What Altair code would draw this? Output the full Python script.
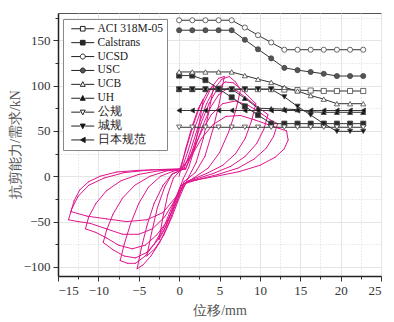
import altair as alt
import pandas as pd

# ---------------- data ----------------
series_names = ["ACI 318M-05", "Calstrans", "UCSD", "USC", "UCB", "UH", "公规", "城规", "日本规范"]
x_mm = [0, 1.63, 3.26, 4.89, 6.51, 8.14, 9.77, 11.4, 13.03, 14.66, 16.29, 17.91, 19.54, 21.17, 22.8]
aci = [96, 96, 96, 96, 96, 96, 96, 96, 95.5, 95, 94.5, 94, 94, 94, 94]
calstrans = [111, 111, 106, 96.5, 87, 77, 67.5, 58, 58, 58, 58, 58, 58, 58, 58]
ucsd = [172, 172, 172, 172, 172, 164, 155.5, 147.5, 139.5, 139.5, 139.5, 139.5, 139.5, 139.5, 139.5]
usc = [161, 161, 161, 161, 161, 150.5, 140, 130, 119.5, 117, 115, 113, 110.5, 110.5, 110.5]
ucb = [115, 115, 115, 115, 115, 111, 107, 103.5, 98, 94, 89, 85, 80, 80, 80]
uh = [96, 96, 96, 96, 96, 86, 75, 74.5, 74, 73.5, 71, 70.5, 70.5, 70.5, 70.5]
gonggui = [54, 54, 54, 54, 54, 54, 54, 54, 54, 54, 54, 54, 54, 54, 54]
chenggui = [96, 96, 96, 96, 96, 96, 96, 96, 87.5, 77, 67.5, 58, 49.5, 49.5, 49.5]
riben = [72.5, 72.5, 72.5, 72.5, 72.5, 72.5, 72.5, 72.5, 72.5, 72.5, 72.5, 72.5, 72.5, 72.5, 72.5]
series_vals = [aci, calstrans, ucsd, usc, ucb, uh, gonggui, chenggui, riben]

# hysteresis path (displacement mm, force kN)
hyst_x = [0,
          0.8, 1.6, 2.4, 3.0, 2.5, 1.9, 1.2, 0.5,
          -0.4, -1.2, -1.9, -2.5, -2.0, -1.4, -0.7, 0,
          0.8, 1.7, 2.6, 3.5, 4.3, 3.7, 3.0, 2.1, 1.0,
          0.1, -0.9, -1.9, -3.0, -4.0, -3.4, -2.7, -1.8, -0.9, 0.3,
          1.1, 2.0, 3.0, 4.0, 4.9, 5.6, 5.0, 4.2, 3.2, 2.0, 0.6,
          -0.3, -1.3, -2.4, -3.5, -4.5, -5.2, -4.7, -4.0, -3.1, -2.0, -0.8, 0.6,
          1.4, 2.4, 3.4, 4.4, 5.3, 6.2, 7.0, 7.6, 7.0, 6.1, 5.0, 3.6, 1.8, 0.2,
          -0.8, -1.9, -3.1, -4.2, -5.4, -6.4, -7.3, -6.8, -6.0, -5.0, -3.8, -2.3, -0.6, 0.8,
          1.7, 2.7, 3.7, 4.7, 5.7, 6.7, 7.7, 8.6, 9.5, 9.0, 8.2, 7.0, 5.4, 3.4, 1.2, 0.3,
          -0.6, -1.6, -2.8, -4.0, -5.4, -6.8, -8.2, -9.4, -9.0, -8.2, -7.0, -5.5, -3.6, -1.5, 0.8,
          1.9, 2.9, 3.9, 4.9, 6.0, 7.2, 8.5, 9.8, 11.0, 10.5, 9.6, 8.2, 6.4, 4.2, 1.8, 0.6,
          -0.3, -1.5, -2.8, -4.2, -5.8, -7.5, -9.0, -10.3, -11.6, -11.2, -10.3, -9.0, -7.2, -5.0, -2.5, 0.4,
          1.6, 2.8, 4.0, 5.4, 7.0, 8.6, 10.2, 11.3, 12.2, 11.7, 10.8, 9.3, 7.3, 4.8, 2.2, 0.8,
          -0.5, -1.8, -3.3, -5.0, -7.0, -9.0, -11.0, -12.5, -13.7, -13.3, -12.5, -11.2, -9.3, -6.8, -3.5, 0.2,
          1.5, 2.8, 4.2, 5.8, 7.6, 9.4, 11.0, 12.3, 13.3, 13.5, 13.0, 11.9, 10.0, 7.4, 4.6, 2.2, 1.0,
          -0.5, -2.0, -4.0, -6.5, -9.0, -11.4, -13.4, -13.0, -12.3, -11.2, -9.8, -7.7, -5.0, -2.0, 0.5]
hyst_y = [0,
          30, 55, 75, 85, 58, 30, 10, -3,
          -25, -45, -60, -70, -45, -20, -2, 5,
          28, 55, 78, 93, 100, 72, 42, 15, -4,
          -22, -45, -65, -80, -88, -62, -35, -12, 2, 7,
          28, 55, 80, 98, 108, 110, 82, 52, 22, 4, -6,
          -28, -52, -73, -88, -98, -102, -80, -55, -30, -10, 3, 8,
          28, 56, 80, 97, 107, 110, 104, 95, 72, 48, 26, 9, -2, -10,
          -32, -56, -75, -88, -96, -96, -93, -75, -52, -30, -12, 0, 6, 8,
          30, 58, 80, 96, 104, 103, 96, 88, 80, 62, 42, 25, 12, 3, -5, -10,
          -32, -55, -72, -84, -90, -88, -81, -73, -60, -42, -24, -10, 0, 6, 8,
          30, 55, 76, 90, 97, 94, 85, 76, 68, 52, 36, 22, 11, 3, -4, -8,
          -28, -50, -65, -76, -80, -76, -68, -62, -58, -45, -30, -16, -5, 2, 6, 8,
          26, 50, 68, 80, 83, 78, 69, 62, 58, 44, 31, 19, 9, 2, -4, -8,
          -26, -45, -58, -64, -64, -58, -52, -50, -48, -36, -22, -10, -2, 4, 7, 8,
          22, 42, 57, 66, 67, 62, 57, 53, 50, 40, 30, 21, 12, 5, 0, -4, -6,
          -24, -40, -48, -50, -47, -44, -39, -27, -15, -6, 0, 4.7, 6.5, 7.5, 8]
assert len(hyst_x) == len(hyst_y)

x_major = [-15, -10, -5, 0, 5, 10, 15, 20, 25]
x_minor = [-12.5, -7.5, -2.5, 2.5, 7.5, 12.5, 17.5, 22.5]
y_major = [-100, -50, 0, 50, 100, 150]
y_minor = [-75, -25, 25, 75, 125, 175]

# ---------------- tables ----------------
rows = []
for name, vals in zip(series_names, series_vals):
    for xv, yv in zip(x_mm, vals):
        rows.append({"series": name, "x": xv, "y": yv})
series_df = pd.DataFrame(rows)
seg_df = pd.DataFrame({"x": hyst_x[:-1], "y": hyst_y[:-1], "x2": hyst_x[1:], "y2": hyst_y[1:]})

# ---------------- styles ----------------
plot_shapes = ["square", "square", "circle", "circle", "triangle-up", "triangle-up",
               "triangle-down", "triangle-down", "triangle-left"]
fills = ["white", "#2a2a2a", "white", "#555555", "white", "#111111", "white", "#111111", "#111111"]
# legend glyphs: a short line with the marker in its middle (unit = 4 px)
ln = "M-0.375,0H1.9M3.1,0H5.375"
sq = "M1.92,-0.58H3.08V0.58H1.92Z"
ci = "M1.88,0A0.62,0.62 0 1,0 3.12,0A0.62,0.62 0 1,0 1.88,0Z"
tu = "M2.5,-0.68L3.12,0.5L1.88,0.5Z"
td = "M2.5,0.68L3.12,-0.5L1.88,-0.5Z"
tl = "M1.9,0L3.1,-0.65L3.1,0.65Z"
leg_shapes = [ln + sq, ln + sq, ln + ci, ln + ci, ln + tu, ln + tu, ln + td, ln + td, ln + tl]

FONT = "Liberation Serif"
xs = alt.Scale(domain=[-15, 25], nice=False, zero=False)
ys = alt.Scale(domain=[-110, 180], nice=False, zero=False)

minor = alt.Chart(series_df).mark_point(opacity=0).encode(
    x=alt.X("x:Q", scale=xs, axis=alt.Axis(values=x_minor, labels=False, tickSize=3, grid=True,
                                          gridDash=[1, 2], gridColor="#d8d8d8", domain=False,
                                          title=None, orient="bottom", tickColor="#333")),
    y=alt.Y("y:Q", scale=ys, axis=alt.Axis(values=y_minor, labels=False, tickSize=3, grid=True,
                                          gridDash=[1, 2], gridColor="#d8d8d8", domain=False,
                                          title=None, orient="left", tickColor="#333")),
)

hyst = alt.Chart(seg_df).mark_rule(color="#e0148c", strokeWidth=1, strokeCap="round").encode(
    x=alt.X("x:Q", scale=xs, axis=alt.Axis(values=x_major, title="位移/mm", grid=True, gridColor="#e4e4e4",
                                          orient="bottom", tickSize=5, titlePadding=6,
                                          labelFont=FONT, titleFont=FONT)),
    y=alt.Y("y:Q", scale=ys, axis=alt.Axis(values=y_major, title="抗剪能力/需求/kN", grid=True,
                                          gridColor="#e4e4e4", orient="left", tickSize=5,
                                          labelFont=FONT, titleFont=FONT,
                                          titleAngle=270, titleX=-43, titleY=131, titleAlign="center",
                                          titleBaseline="middle")),
    x2="x2:Q",
    y2="y2:Q",
)

lines = alt.Chart(series_df).mark_line(color="#333333", strokeWidth=1).encode(
    x=alt.X("x:Q", scale=xs, axis=None),
    y=alt.Y("y:Q", scale=ys, axis=None),
    detail="series:N",
)

pts = alt.Chart(series_df).mark_point(size=26, opacity=1, stroke="#444444", strokeWidth=0.8, filled=False).encode(
    x=alt.X("x:Q", scale=xs, axis=None),
    y=alt.Y("y:Q", scale=ys, axis=None),
    shape=alt.Shape("series:N", scale=alt.Scale(domain=series_names, range=plot_shapes), legend=None),
    fill=alt.Fill("series:N", scale=alt.Scale(domain=series_names, range=fills), legend=None),
)

leg_def = alt.Legend(orient="none", legendX=5, legendY=6, title=None, labelFont=FONT, labelFontSize=11.5,
                     labelColor="#222", symbolSize=64, symbolStrokeWidth=1, symbolOpacity=1,
                     padding=4, strokeColor="#888888", fillColor="white", rowPadding=0.9,
                     labelOffset=19, cornerRadius=0)
leg = alt.Chart(series_df).mark_point(opacity=0, stroke="#222222", strokeWidth=1, filled=False).encode(
    x=alt.X("x:Q", scale=xs, axis=None),
    y=alt.Y("y:Q", scale=ys, axis=None),
    shape=alt.Shape("series:N", scale=alt.Scale(domain=series_names, range=leg_shapes), legend=leg_def),
    fill=alt.Fill("series:N", scale=alt.Scale(domain=series_names, range=fills), legend=leg_def),
)

chart = alt.layer(minor, hyst, lines, pts, leg).resolve_axis(
    x="independent", y="independent"
).resolve_scale(shape="independent", fill="independent").properties(
    width=323, height=263, autosize="none",
    padding={"left": 58, "top": 13, "right": 13, "bottom": 46},
).configure_view(stroke="#555555", strokeWidth=1).configure_axis(
    labelFont=FONT, labelFontSize=13, labelColor="#333", titleFont=FONT, titleFontSize=14,
    titleColor="#555", titleFontWeight="normal", domainColor="#222", domainWidth=1.5,
    tickColor="#333", labelPadding=3,
)

chart.save("out.html", embed_options={"renderer": "svg", "actions": False})
